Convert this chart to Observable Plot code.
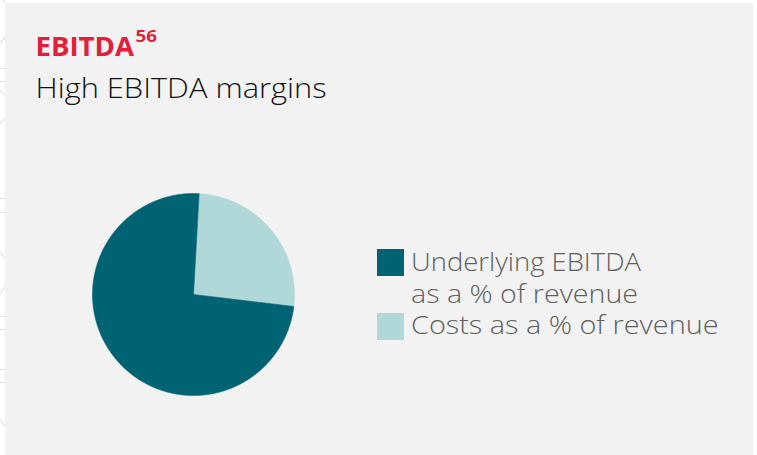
<!DOCTYPE html>
<html>
<head>
<meta charset="utf-8">
<script src="https://cdn.jsdelivr.net/npm/d3@7"></script>
<script src="https://cdn.jsdelivr.net/npm/@observablehq/plot@0.6"></script>
<style>
  html, body { margin: 0; padding: 0; background: #ffffff; }
  body { width: 757px; height: 455px; position: relative; overflow: hidden; font-family: "Open Sans", sans-serif; }
  #panel { position: absolute; left: 5px; top: 3px; width: 748px; height: 452px; background: #f2f2f2; }
  .deco { position: absolute; border: 1.5px solid #dcdcdc; box-sizing: border-box; }
  #chart { position: absolute; }
  #overlay { position: absolute; left: 0; top: 0; }
</style>
</head>
<body>
<div class="deco" style="left:-40px; top:-10px; width:50px; height:60px; border-radius:50%;"></div>
<div class="deco" style="left:-10px; top:68px; width:18px; height:14px;"></div>
<div class="deco" style="left:-40px; top:86px; width:50px; height:42px; border-radius:50%;"></div>
<div class="deco" style="left:-10px; top:198px; width:17px; height:15px;"></div>
<div class="deco" style="left:-40px; top:245px; width:49px; height:55px; border-radius:50%;"></div>
<div class="deco" style="left:-10px; top:316px; width:17px; height:14px;"></div>
<div class="deco" style="left:-10px; top:369px; width:17px; height:14px;"></div>
<div class="deco" style="left:-40px; top:412px; width:49px; height:60px; border-radius:50%;"></div>
<div id="panel"></div>
<div id="chart"></div>
<svg id="overlay" width="757" height="455"></svg>
<script>
// Data (order as drawn clockwise from near 12 o'clock)
const categories = ["Costs as a % of revenue", "Underlying EBITDA as a % of revenue"];
const values = [26, 74];
const colors = ["#b0d8d8", "#006373"];
const legendLabels = [["Underlying EBITDA", "as a % of revenue"], ["Costs as a % of revenue"]];
const legendColors = ["#006373", "#b0d8d8"];
const titleText = "EBITDA";
const titleNote = "56";
const subtitleText = "High EBITDA margins";

const startDeg = 3.2;
const pie = d3.pie().sort(null).startAngle(startDeg * Math.PI / 180).endAngle(startDeg * Math.PI / 180 + 2 * Math.PI);
const arcs = pie(values);
const pts = [];
arcs.forEach((a, i) => {
  const cat = categories[i];
  pts.push({cat, x: 0, y: 0});
  const n = Math.max(2, Math.ceil((a.endAngle - a.startAngle) / (Math.PI / 360)));
  for (let k = 0; k <= n; k++) {
    const t = a.startAngle + (a.endAngle - a.startAngle) * k / n;
    pts.push({cat, x: Math.sin(t), y: Math.cos(t)});
  }
  pts.push({cat, x: 0, y: 0});
});

const size = 220, R = 101;
const ext = (size / 2) / R;
const plot = Plot.plot({
  width: size, height: size,
  margin: 0,
  style: {background: "transparent", overflow: "visible"},
  x: {domain: [-ext, ext], axis: null},
  y: {domain: [-ext, ext], axis: null},
  color: {domain: categories, range: colors},
  marks: [
    Plot.line(pts, {x: "x", y: "y", z: "cat", fill: "cat", stroke: "cat", strokeWidth: 0.6, curve: "linear"})
  ]
});
const chart = document.getElementById("chart");
chart.style.left = (193.3 - size / 2) + "px";
chart.style.top = (294.3 - size / 2) + "px";
chart.appendChild(plot);

// Text overlay (title, subtitle, legend)
const svg = d3.select("#overlay");
function txt(s, x, y, w, size, weight, color) {
  svg.append("text")
    .attr("x", x).attr("y", y)
    .attr("font-family", "Open Sans, sans-serif")
    .attr("font-size", size).attr("font-weight", weight)
    .attr("fill", color)
    .attr("textLength", w).attr("lengthAdjust", "spacingAndGlyphs")
    .text(s);
}
txt(titleText, 35.5, 56, 98.5, 26.5, 700, "#e2203a");
txt(titleNote, 135.5, 41.7, 21.5, 16.5, 700, "#e2203a");
txt(subtitleText, 35.5, 98.3, 291, 28, 300, "#111111");

const swTops = [249, 313];
const baselines = [[270.7, 303.3], [334]];
const widths = [[230, 227], [307.5]];
legendLabels.forEach((lines, i) => {
  svg.append("rect").attr("x", 377).attr("y", swTops[i]).attr("width", 27).attr("height", 27).attr("fill", legendColors[i]);
  lines.forEach((line, j) => txt(line, 411, baselines[i][j], widths[i][j], 25, 300, "#5f5f5f"));
});
</script>
</body>
</html>
